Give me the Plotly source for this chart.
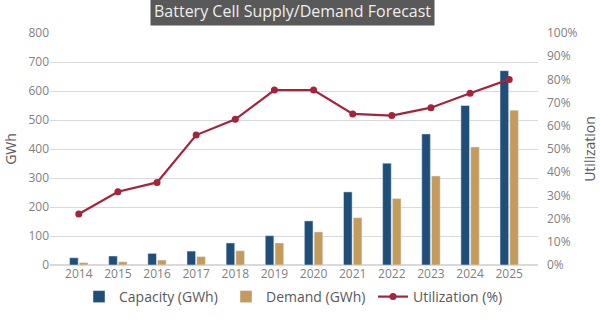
import plotly.graph_objects as go

years = ["2014", "2015", "2016", "2017", "2018", "2019", "2020", "2021", "2022", "2023", "2024", "2025"]
capacity = [25, 31, 40, 48, 76, 101, 152, 252, 351, 452, 550, 670]
demand = [8, 11, 17, 29, 49, 76, 114, 163, 229, 307, 407, 534]
utilization = [22, 31.6, 35.6, 56, 62.8, 75.4, 75.4, 65.1, 64.4, 67.8, 74, 80]

left_ticks = [0, 100, 200, 300, 400, 500, 600, 700, 800]
right_ticks = [0, 10, 20, 30, 40, 50, 60, 70, 80, 90, 100]

FONT = "Open Sans"
GRAY = "#7f7f7f"

fig = go.Figure()
fig.add_trace(go.Bar(x=years, y=capacity, name="Capacity (GWh)", marker_color="#1f4e79"))
fig.add_trace(go.Bar(x=years, y=demand, name="Demand (GWh)", marker_color="#c59b5c"))
fig.add_trace(go.Scatter(x=years, y=utilization, name="Utilization (%)", yaxis="y2",
                         mode="lines+markers", line=dict(color="#a5233b", width=2.2),
                         marker=dict(size=7, color="#a5233b")))

fig.update_layout(
    width=600, height=322,
    margin=dict(l=50, r=62, t=33, b=57, autoexpand=False),
    paper_bgcolor="white", plot_bgcolor="white",
    font=dict(family=FONT, color=GRAY, size=12),
    barmode="group", bargap=0.5, bargroupgap=0.12,
    showlegend=True,
    legend=dict(orientation="h", x=79 / 600, xref="container", xanchor="left",
                y=(322 - 297) / 322, yref="container", yanchor="middle",
                font=dict(size=14, color="#595959"), itemwidth=30,
                entrywidth=102, tracegroupgap=0),
    xaxis=dict(showgrid=False, ticks="", tickfont=dict(size=12, color=GRAY),
               showline=False, automargin=False),
    yaxis=dict(range=[0, 800], tickvals=left_ticks, showgrid=True, gridcolor="#d9d9d9",
               gridwidth=1, zeroline=True, zerolinecolor="#d9d9d9", automargin=False,
               tickfont=dict(size=12, color=GRAY),
               title=dict(text="GWh", font=dict(size=14, color="#595959"), standoff=8)),
    yaxis2=dict(range=[0, 100], tickvals=right_ticks, ticktext=[f"{v}%" for v in right_ticks],
                overlaying="y", side="right", showgrid=False, zeroline=False, automargin=False,
                tickfont=dict(size=12, color=GRAY), ticklabelstandoff=8,
                title=dict(text="Utilization", font=dict(size=14, color="#595959"), standoff=8)),
    annotations=[dict(text="Battery Cell Supply/Demand Forecast", xref="paper", yref="paper",
                      x=(292 - 50) / 488, y=1, yanchor="bottom", xanchor="center", yshift=7,
                      showarrow=False, bgcolor="#595959", borderpad=3,
                      font=dict(size=16, color="#eeeeee", family=FONT))],
)

fig.write_html("out.html")
